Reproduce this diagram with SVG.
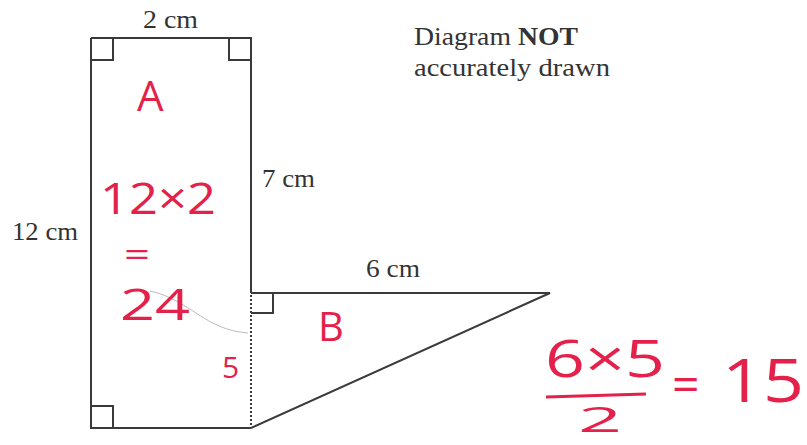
<svg xmlns="http://www.w3.org/2000/svg" width="807" height="445" viewBox="0 0 807 445">
<style>
.ln{fill:none;stroke:#3a3a3a;stroke-width:2}
.lbl{font-family:"Liberation Serif",serif;font-size:25px;fill:#333}
.hw{font-family:"Open Sans","Liberation Sans",sans-serif;font-weight:400;fill:#e3214a}
</style>
<rect width="807" height="445" fill="#fff"/>
<g id="shapeA">
<path class="ln" d="M91 38 H251 V293 M91 38 V428 H251"/>
<path class="ln" d="M91 60 H113 V38 M229 38 V60 H251 M91 406 H113 V428"/>
</g>
<g id="shapeB">
<path class="ln" d="M251 293 H550 L251 428"/>
<path class="ln" d="M251 313 H273 V293"/>
<path d="M251 295 V428" fill="none" stroke="#3a3a3a" stroke-width="2" stroke-dasharray="2 2"/>
</g>
<path d="M150 291 C190 300 205 330 248 333" fill="none" stroke="#bbb" stroke-width="1"/>
<g id="labels">
<text class="lbl" x="143" y="28" textLength="55" lengthAdjust="spacingAndGlyphs">2 cm</text>
<text class="lbl" x="12" y="240" textLength="66" lengthAdjust="spacingAndGlyphs">12 cm</text>
<text class="lbl" x="262" y="187" textLength="53" lengthAdjust="spacingAndGlyphs">7 cm</text>
<text class="lbl" x="366" y="277" textLength="54" lengthAdjust="spacingAndGlyphs">6 cm</text>
<text class="lbl" x="414" y="45" textLength="164" lengthAdjust="spacingAndGlyphs">Diagram <tspan font-weight="bold">NOT</tspan></text>
<text class="lbl" x="414" y="76" textLength="196" lengthAdjust="spacingAndGlyphs">accurately drawn</text>
</g>
<g id="handwriting">
<text class="hw" x="137" y="111" font-size="42">A</text>
<text class="hw" x="100" y="214" font-size="44" textLength="116" lengthAdjust="spacingAndGlyphs">12×2</text>
<text class="hw" x="124" y="266" font-size="32" textLength="26" lengthAdjust="spacingAndGlyphs">=</text>
<text class="hw" x="120" y="320" font-size="44" textLength="70" lengthAdjust="spacingAndGlyphs">24</text>
<text class="hw" x="222" y="378" font-size="30">5</text>
<text class="hw" x="318" y="341" font-size="40">B</text>
<text class="hw" x="545" y="377" font-size="52" textLength="120" lengthAdjust="spacingAndGlyphs">6×5</text>
<line x1="546" y1="397" x2="646" y2="394" stroke="#e3214a" stroke-width="3"/>
<text class="hw" x="578" y="432" font-size="34" textLength="44" lengthAdjust="spacingAndGlyphs">2</text>
<text class="hw" x="672" y="401" font-size="48">=</text>
<text class="hw" x="722" y="402" font-size="60" textLength="82" lengthAdjust="spacingAndGlyphs">15</text>
</g>
</svg>
